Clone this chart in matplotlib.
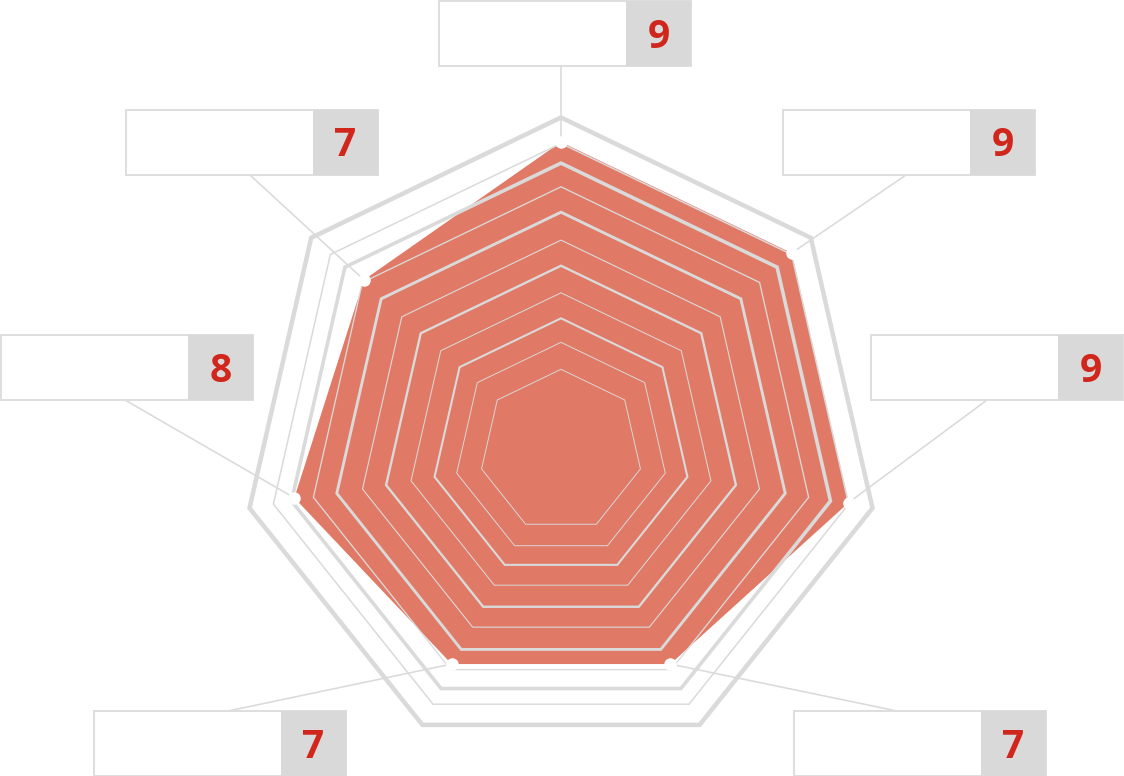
import numpy as np
import matplotlib
matplotlib.use("Agg")
import matplotlib.pyplot as plt
from matplotlib.patches import Rectangle, Polygon

# radar values, clockwise from the top axis
values = [9, 9, 9, 7, 7, 8, 7]
value_labels = [str(v) for v in values]

# canvas layout in pixels (y grows downwards)
W, H = 1124, 776
cx, cy = 561, 437
R = 319.5
r_zero, px_per_unit = 101.5, 21.5   # value -> radius scale
ring_radii = [81.5, 107, 129.7, 153.8, 179.4, 203.6, 230, 254, 276.4, 295, 319.5]
ring_thick = [False, False, True, False, True, False, True, False, True, False, True]
ring_drift = 0.058                   # inner rings sit a little lower

box_w, box_h, tag_w = 252, 65, 65
boxes = [(439, 1), (783, 110), (871, 335), (794, 711), (94, 711), (1, 335), (126, 110)]
leader_from = [(561, 66), (906, 175), (987, 400), (897, 711), (228, 711), (125, 400), (250, 175)]

FILL = "#e07a66"
GRID = "#dadada"
RED = "#d0261c"
PX = 0.72  # points per pixel at dpi 100

n = len(values)
theta = 2 * np.pi * np.arange(n) / n


def heptagon(r, yc):
    r = np.broadcast_to(r, theta.shape)
    return np.column_stack([cx + r * np.sin(theta), yc - r * np.cos(theta)])


fig = plt.figure(figsize=(W / 100, H / 100), dpi=100)
ax = fig.add_axes([0, 0, 1, 1])
ax.set_xlim(0, W)
ax.set_ylim(H, 0)
ax.axis("off")

# data area
pts = heptagon(r_zero + px_per_unit * np.array(values, dtype=float), cy)
ax.add_patch(Polygon(pts, closed=True, facecolor=FILL, edgecolor="none", zorder=1))

# split rings, drawn over the area
for r, thick in zip(ring_radii, ring_thick):
    k = (r / R) ** 3
    lw = (1.9 + 2.6 * k) if thick else (0.9 + 0.8 * k)
    ax.add_patch(Polygon(heptagon(r, cy + ring_drift * (R - r)), closed=True,
                         fill=False, edgecolor=GRID, linewidth=lw * PX,
                         joinstyle="miter", zorder=2))

# leader lines and point markers
for (lx, ly), (px, py) in zip(leader_from, pts):
    ax.plot([lx, px], [ly, py], color=GRID, linewidth=1.6 * PX, zorder=3)
ax.plot(pts[:, 0], pts[:, 1], "o", ms=9, mfc="white", mec="none", zorder=4)

# label boxes
for (bx, by), lab in zip(boxes, value_labels):
    ax.add_patch(Rectangle((bx, by), box_w, box_h, facecolor="white",
                           edgecolor="#dedede", linewidth=2 * PX, zorder=5))
    ax.add_patch(Rectangle((bx + box_w - tag_w, by), tag_w, box_h,
                           facecolor="#d9d9d9", edgecolor="none", zorder=6))
    ax.text(bx + box_w - tag_w / 2, by + box_h / 2 + 14, lab, ha="center",
            va="baseline", fontsize=28, fontweight="bold", family="Open Sans",
            color=RED, zorder=7)

fig.savefig("out.png", dpi=100, facecolor="white")
